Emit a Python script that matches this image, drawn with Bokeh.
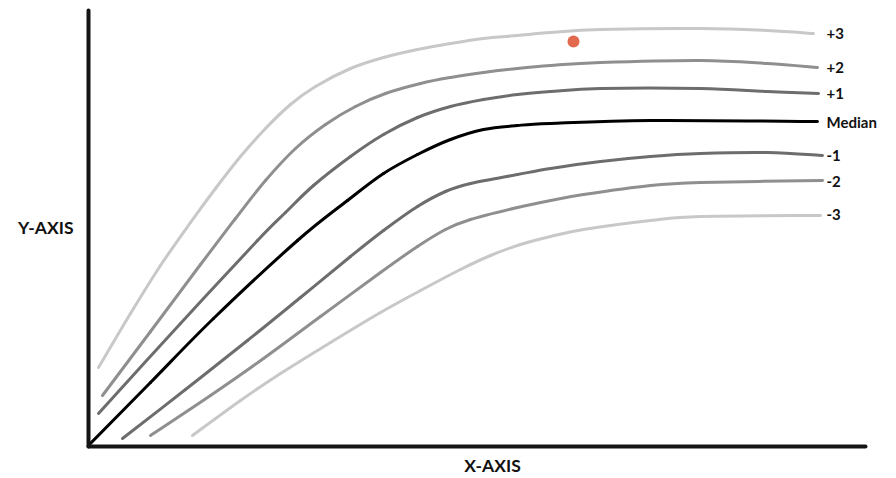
from bokeh.plotting import figure
from bokeh.models import Range1d, LinearAxis, FixedTicker
from bokeh.core.properties import value
from bokeh.embed import file_html
from bokeh.resources import INLINE

# curves (x, y) in chart units
plus3_x = [10, 42, 72, 102, 127, 152, 177, 202, 227, 262, 295, 329, 362, 395, 429, 462, 512, 612, 679, 725]
plus3_y = [79, 133, 181, 224, 258, 290, 318, 342, 360, 378, 389, 397, 403, 408, 411, 414, 417, 418, 416, 413]
plus2_x = [14, 62, 112, 147, 177, 207, 237, 267, 297, 332, 362, 395, 429, 462, 512, 612, 679, 729]
plus2_y = [51, 115, 182, 228, 266, 298, 322, 340, 353, 363, 369, 374, 378, 381, 384, 386, 383, 379]
plus1_x = [10, 92, 169, 197, 225, 262, 295, 329, 362, 395, 429, 462, 512, 612, 679, 730]
plus1_y = [33, 123, 206, 234, 261, 290, 312, 329, 340, 347, 352, 355, 358, 358, 355, 353]
median_x = [0, 62, 125, 209, 259, 295, 329, 362, 395, 429, 462, 562, 729]
median_y = [1, 64, 128, 206, 246, 273, 292, 307, 317, 321, 323, 326, 325]
minus1_x = [34, 97, 159, 212, 262, 295, 329, 357, 382, 429, 462, 512, 562, 612, 679, 734]
minus1_y = [8, 57, 106, 149, 190, 216, 240, 255, 263, 272, 278, 285, 290, 293, 294, 291]
minus2_x = [62, 122, 175, 232, 292, 329, 357, 382, 429, 462, 495, 562, 612, 734]
minus2_y = [11, 51, 88, 130, 174, 200, 217, 227, 239, 246, 252, 261, 264, 266]
minus3_x = [104, 152, 192, 242, 292, 332, 372, 402, 432, 462, 495, 562, 612, 732]
minus3_y = [11, 46, 73, 104, 134, 156, 177, 191, 202, 210, 217, 226, 230, 231]

curve_labels = ["+3", "+2", "+1", "Median", "-1", "-2", "-3"]
label_x = [738, 738, 738, 738, 738, 738, 738]
label_y = [413, 379, 353, 325, 291, 265, 232]

point_x = [485]
point_y = [405]

p = figure(width=896, height=478, output_backend="svg", toolbar_location=None,
           x_range=Range1d(0, 808), y_range=Range1d(0, 438),
           x_axis_type=None, y_axis_type=None,
           min_border_left=88, min_border_right=0, min_border_top=8, min_border_bottom=32)
p.outline_line_color = None
p.xgrid.visible = False
p.ygrid.visible = False
p.background_fill_color = "white"

font = "Lato"
for ax, loc, lab, bnd in [(LinearAxis(), "left", "Y-AXIS", (0, 436)), (LinearAxis(), "below", "X-AXIS", (0, 777))]:
    ax.ticker = FixedTicker(ticks=[])
    ax.bounds = bnd
    ax.axis_line_color = "#151515"
    ax.axis_line_width = 4
    ax.axis_line_cap = "round"
    ax.major_tick_line_color = None
    ax.minor_tick_line_color = None
    ax.major_tick_out = 0
    ax.major_tick_in = 0
    ax.major_label_text_font_size = "0px"
    ax.axis_label = lab
    ax.axis_label_text_font = font
    ax.axis_label_text_font_style = "bold"
    ax.axis_label_text_font_size = "17.5px"
    ax.axis_label_text_color = "#111111"
    ax.axis_label_standoff = 15 if loc == "left" else 8
    if loc == "left":
        ax.axis_label_orientation = "horizontal"
    p.add_layout(ax, loc)


def smooth_segments(xs, ys):
    """Catmull-Rom through the read points, expressed as cubic Bezier segments."""
    n = len(xs)
    px = [xs[0]] + list(xs) + [xs[-1]]
    py = [ys[0]] + list(ys) + [ys[-1]]
    seg = dict(x0=[], y0=[], x1=[], y1=[], cx0=[], cy0=[], cx1=[], cy1=[])
    for i in range(1, n):
        a, b, c, d = i - 1, i, i + 1, i + 2
        seg["x0"].append(px[b]); seg["y0"].append(py[b])
        seg["x1"].append(px[c]); seg["y1"].append(py[c])
        seg["cx0"].append(px[b] + (px[c] - px[a]) / 6.0)
        seg["cy0"].append(py[b] + (py[c] - py[a]) / 6.0)
        seg["cx1"].append(px[c] - (px[d] - px[b]) / 6.0)
        seg["cy1"].append(py[c] - (py[d] - py[b]) / 6.0)
    return seg


series = [
    (plus3_x, plus3_y, "#c8c8c8", 3),
    (plus2_x, plus2_y, "#8f8f8f", 3),
    (plus1_x, plus1_y, "#6d6d6d", 3),
    (minus1_x, minus1_y, "#6d6d6d", 3),
    (minus2_x, minus2_y, "#8f8f8f", 3),
    (minus3_x, minus3_y, "#c8c8c8", 3),
    (median_x, median_y, "#000000", 3),
]
for xs, ys, c, w in series:
    s = smooth_segments(xs, ys)
    p.bezier(x0=s["x0"], y0=s["y0"], x1=s["x1"], y1=s["y1"],
             cx0=s["cx0"], cy0=s["cy0"], cx1=s["cx1"], cy1=s["cy1"],
             line_color=c, line_width=w, line_cap="round")

p.text(x=label_x, y=label_y, text=curve_labels, text_font=value(font), text_font_style="bold",
       text_font_size="15px", text_color="#111111", text_align="left", text_baseline="middle")

p.scatter(point_x, point_y, size=12, fill_color="#e2694e", line_color=None)

open("out.html", "w").write(file_html(p, INLINE))
